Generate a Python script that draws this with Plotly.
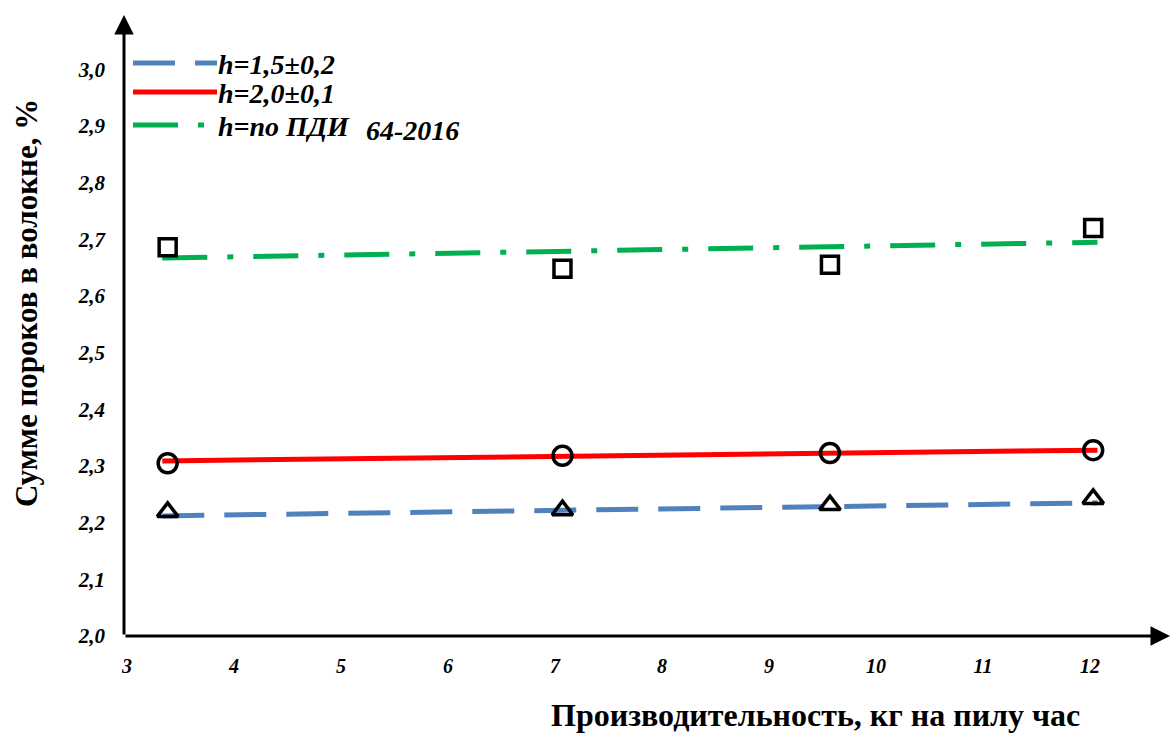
import plotly.graph_objects as go

# ---- data ----
x_points = [3.38, 7.07, 9.57, 12.03]
y_tri = [2.219, 2.222, 2.231, 2.242]      # h=1,5±0,2
y_circ = [2.305, 2.318, 2.323, 2.328]     # h=2,0±0,1
y_sq = [2.686, 2.648, 2.655, 2.720]       # h=по ПДИ 64-2016

trend_x = [3.33, 12.07]
trend_blue = [2.212, 2.235]
trend_red = [2.309, 2.328]
trend_green = [2.667, 2.695]

x_ticks = [3, 4, 5, 6, 7, 8, 9, 10, 11, 12]
x_ticktext = ["3", "4", "5", "6", "7", "8", "9", "10", "11", "12"]
y_ticks = [2.0, 2.1, 2.2, 2.3, 2.4, 2.5, 2.6, 2.7, 2.8, 2.9, 3.0]
y_ticktext = ["2,0", "2,1", "2,2", "2,3", "2,4", "2,5", "2,6", "2,7", "2,8", "2,9", "3,0"]

legend_names = ["h=1,5±0,2", "h=2,0±0,1", "h=по ПДИ"]

BLUE = "#4F81BD"
RED = "#FF0000"
GREEN = "#00B050"
SERIF = "Liberation Serif"

XR = [2.972, 12.748]
YR = [2.0, 3.096]

fig = go.Figure()

fig.add_trace(go.Scatter(x=trend_x, y=trend_green, mode="lines",
                         line=dict(color=GREEN, width=5, dash="45px,20px,6px,20px"),
                         showlegend=False))
fig.add_trace(go.Scatter(x=trend_x, y=trend_red, mode="lines",
                         line=dict(color=RED, width=5), showlegend=False))
fig.add_trace(go.Scatter(x=trend_x, y=trend_blue, mode="lines",
                         line=dict(color=BLUE, width=5, dash="42px,20px"),
                         showlegend=False))

fig.add_trace(go.Scatter(x=x_points, y=y_sq, mode="markers",
                         marker=dict(symbol="square-open", size=17, color="black",
                                     line=dict(width=3.5, color="black")),
                         showlegend=False))
fig.add_trace(go.Scatter(x=x_points, y=y_circ, mode="markers",
                         marker=dict(symbol="circle-open", size=19, color="black",
                                     line=dict(width=3.5, color="black")),
                         showlegend=False))
fig.add_trace(go.Scatter(x=x_points, y=y_tri, mode="markers",
                         marker=dict(symbol="triangle-up-open", size=18, color="black",
                                     line=dict(width=3.5, color="black")),
                         showlegend=False))

W, H = 1176, 733
L, R, T, B = 124, 6, 15, 97
pw, ph = W - L - R, H - T - B


def px(xp):
    return (xp - L) / pw


def py(yp):
    return (H - B - yp) / ph


# custom legend
leg_rows = [
    (63, BLUE, "42px,20px", legend_names[0]),
    (92, RED, "solid", legend_names[1]),
    (125, GREEN, "45px,20px,6px,20px", legend_names[2]),
]
shapes = []
annotations = []
for yp, col, dash, name in leg_rows:
    shapes.append(dict(type="line", xref="paper", yref="paper",
                       x0=px(133), x1=px(217), y0=py(yp), y1=py(yp),
                       line=dict(color=col, width=5, dash=dash)))
    annotations.append(dict(xref="paper", yref="paper", x=px(216), y=py(yp + 1),
                            xanchor="left", yanchor="middle", showarrow=False,
                            text="<b><i>" + name + "</i></b>",
                            font=dict(family=SERIF, size=28, color="black")))
annotations.append(dict(xref="paper", yref="paper", x=px(364), y=py(130),
                        xanchor="left", yanchor="middle", showarrow=False,
                        text="<b><i>64-2016</i></b>",
                        font=dict(family=SERIF, size=28, color="black")))

# axis arrows
annotations.append(dict(x=XR[1], y=YR[0], ax=XR[0], ay=YR[0], xref="x", yref="y",
                        axref="x", ayref="y", showarrow=True, arrowhead=2,
                        arrowsize=1.3, arrowwidth=3, arrowcolor="black", text=""))
annotations.append(dict(x=XR[0], y=YR[1], ax=XR[0], ay=YR[0], xref="x", yref="y",
                        axref="x", ayref="y", showarrow=True, arrowhead=2,
                        arrowsize=1.3, arrowwidth=3, arrowcolor="black", text=""))

# axis titles
annotations.append(dict(xref="paper", yref="paper", x=px(815), y=py(715),
                        xanchor="center", yanchor="middle", showarrow=False,
                        text="<b>Производительность, кг на пилу час</b>",
                        font=dict(family=SERIF, size=32, color="black")))
annotations.append(dict(xref="paper", yref="paper", x=px(27), y=py(303),
                        xanchor="center", yanchor="middle", showarrow=False,
                        textangle=-90,
                        text="<b>Сумме пороков в волокне, %</b>",
                        font=dict(family=SERIF, size=31, color="black")))

fig.update_layout(
    width=W, height=H,
    margin=dict(l=L, r=R, t=T, b=B),
    plot_bgcolor="white", paper_bgcolor="white",
    shapes=shapes, annotations=annotations,
    showlegend=False,
)
fig.update_xaxes(range=XR, tickvals=x_ticks, ticktext=x_ticktext,
                 showgrid=False, zeroline=False, showline=False, ticks="",
                 ticklabelstandoff=16,
                 tickfont=dict(family=SERIF, size=20, color="black",
                               weight="bold", style="italic"))
fig.update_yaxes(range=YR, tickvals=y_ticks, ticktext=y_ticktext,
                 showgrid=False, zeroline=False, showline=False, ticks="",
                 ticklabelstandoff=18,
                 tickfont=dict(family=SERIF, size=21, color="black",
                               weight="bold", style="italic"))

fig.write_html("out.html", config={"displayModeBar": False},
               post_script="document.body.style.margin='0';document.body.style.overflow='hidden';")
